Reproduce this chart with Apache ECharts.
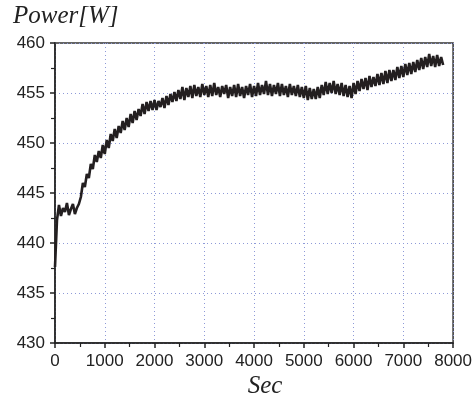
<!DOCTYPE html>
<html>
<head>
<meta charset="utf-8">
<script src="https://cdn.jsdelivr.net/npm/echarts@6/dist/echarts.min.js"></script>
<style>
  html, body { margin: 0; padding: 0; background: #fff; }
  #chart { width: 475px; height: 395px; }
</style>
</head>
<body>
<div id="chart"></div>
<script>
// sample spacing of the power trace, seconds
const stepSec = 40

// power readings [W], one every stepSec (10 per row = 400 s)
const power = [
  437.6, 442.3, 443.8, 442.7, 443.5, 443.1, 444.0, 442.8, 443.4, 443.9,
  442.9, 443.5, 443.9, 444.6, 446.0, 445.6, 446.9, 446.5, 447.9, 447.4,
  448.8, 448.1, 449.2, 448.5, 449.8, 448.9, 450.3, 449.5, 450.9, 450.2,
  451.4, 450.5, 451.7, 451.0, 452.2, 451.3, 452.5, 451.6, 452.9, 452.0,
  453.2, 452.3, 453.4, 452.7, 453.9, 452.9, 454.1, 453.2, 454.2, 453.3,
  454.3, 453.3, 454.2, 453.6, 454.5, 453.5, 454.7, 453.8, 454.9, 454.1,
  455.1, 454.2, 455.3, 454.4, 455.6, 454.3, 455.5, 454.6, 455.7, 454.5,
  455.8, 454.7, 455.6, 454.6, 455.9, 454.8, 455.7, 454.6, 455.8, 454.7,
  456.0, 454.8, 455.6, 454.6, 455.7, 454.9, 455.8, 454.5, 455.6, 454.7,
  455.8, 454.6, 455.9, 454.7, 455.6, 454.5, 455.7, 454.8, 455.9, 454.6,
  455.7, 454.7, 456.0, 454.8, 455.8, 454.9, 456.2, 454.8, 455.9, 454.7,
  455.8, 454.9, 456.0, 454.7, 455.9, 454.8, 455.7, 454.6, 455.9, 454.8,
  455.7, 454.7, 455.8, 454.6, 455.6, 454.5, 455.7, 454.3, 455.5, 454.4,
  455.4, 454.4, 455.6, 454.5, 455.8, 454.8, 456.1, 454.9, 456.0, 455.0,
  456.2, 454.9, 455.9, 454.8, 456.0, 454.7, 455.8, 454.6, 455.7, 454.5,
  456.0, 454.9, 456.2, 455.2, 456.4, 455.4, 456.5, 455.3, 456.7, 455.6,
  456.6, 455.7, 456.9, 455.8, 457.0, 455.9, 457.2, 456.0, 457.3, 456.2,
  457.3, 456.3, 457.6, 456.5, 457.7, 456.6, 457.9, 456.8, 458.0, 456.9,
  458.1, 457.1, 458.3, 457.3, 458.5, 457.4, 458.6, 457.6, 458.9, 457.7,
  458.7, 457.6, 458.8, 457.7, 458.6, 457.8
]

const xTicks = { min: 0, max: 8000, interval: 1000 }
const yTicks = { min: 430, max: 460, interval: 5 }

const axisStyle = {
  splitLine: {
    show: true,
    lineStyle: { color: '#8e9ad8', type: [1, 3], width: 1 },
  },
  axisLine: { show: true, lineStyle: { color: '#222', width: 1.5 } },
  axisTick: { show: true, inside: false, length: 5, lineStyle: { color: '#222', width: 1.5 } },
  minorTick: { show: true, splitNumber: 2, length: 4, lineStyle: { color: '#222', width: 1.2 } },
  axisLabel: {
    color: '#222', fontSize: 17, margin: 10,
    fontFamily: 'Liberation Sans, Arial, sans-serif',
    formatter: v => String(v),
  },
}

const chart = echarts.init(document.getElementById('chart'), null, { renderer: 'canvas' })

chart.setOption({
  animation: false,
  grid: {
    left: 55, right: 21, top: 43, bottom: 52,
    show: true, borderColor: '#333', borderWidth: 1.5,
  },
  xAxis: { type: 'value', ...xTicks, ...axisStyle },
  yAxis: { type: 'value', ...yTicks, ...axisStyle },
  graphic: [
    {
      type: 'text', left: 13, top: 4,
      style: { text: 'Power[W]', font: 'italic 25px "Liberation Serif", "Times New Roman", serif', fill: '#222' },
    },
    {
      type: 'text', x: 265, y: 386,
      style: {
        text: 'Sec', font: 'italic 25px "Liberation Serif", "Times New Roman", serif', fill: '#222',
        align: 'center', verticalAlign: 'middle',
      },
    },
  ],
  series: [
    {
      type: 'line',
      data: power.map((p, i) => [i * stepSec, p]),
      showSymbol: false,
      lineStyle: { color: '#231f20', width: 2.6 },
      z: 3,
    },
  ],
})
</script>
</body>
</html>
